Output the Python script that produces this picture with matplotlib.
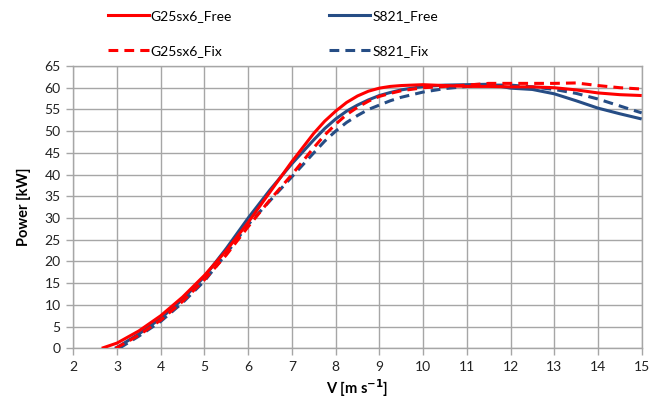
import matplotlib
matplotlib.use("Agg")
import matplotlib.pyplot as plt
from matplotlib.lines import Line2D

plt.rcParams['font.family'] = ['Lato', 'DejaVu Sans']

# Wind speed [m/s] and power [kW]
v_g_free = [2.65, 3.0, 3.5, 4.0, 4.5, 5.0, 5.5, 6.0, 6.5, 7.0, 7.5, 7.75, 8.0, 8.25, 8.5, 8.75,
            9.0, 9.25, 9.5, 10.0, 10.5, 11.0, 11.5, 12.0, 12.5, 13.0, 13.5, 14.0, 14.5, 15.0]
p_g_free = [0.0, 1.2, 4.0, 7.5, 11.8, 16.8, 22.5, 29.0, 36.0, 43.0, 49.5, 52.3, 54.6, 56.6, 58.1, 59.2,
            59.9, 60.3, 60.5, 60.7, 60.5, 60.3, 60.3, 60.2, 60.2, 60.0, 59.5, 58.8, 58.4, 58.2]

v_s_free = [2.95, 3.0, 3.5, 4.0, 4.5, 5.0, 5.5, 6.0, 6.5, 7.0, 7.5, 7.75, 8.0, 8.25, 8.5, 8.75,
            9.0, 9.25, 9.5, 10.0, 10.5, 11.0, 11.5, 12.0, 12.5, 13.0, 13.5, 14.0, 14.5, 15.0]
p_s_free = [0.0, 0.2, 3.3, 6.9, 11.3, 16.5, 23.0, 30.0, 36.5, 42.5, 48.0, 50.6, 52.8, 54.6, 56.0, 57.2,
            58.2, 58.9, 59.5, 60.3, 60.6, 60.7, 60.8, 59.9, 59.6, 58.6, 57.0, 55.3, 54.0, 52.8]

v_g_fix = [2.97, 3.5, 4.0, 4.5, 5.0, 5.5, 6.0, 6.5, 7.0, 7.5, 7.75, 8.0, 8.25, 8.5, 8.75,
           9.0, 9.25, 9.5, 10.0, 10.5, 11.0, 11.5, 12.0, 12.5, 13.0, 13.5, 14.0, 14.5, 15.0]
p_g_fix = [0.0, 3.0, 6.5, 10.8, 15.8, 21.5, 28.0, 34.2, 40.0, 46.2, 49.1, 51.6, 53.8, 55.5, 56.9,
           58.0, 58.7, 59.3, 60.0, 60.3, 60.6, 61.0, 61.0, 61.0, 61.0, 61.1, 60.5, 60.0, 59.7]

v_s_fix = [3.05, 3.5, 4.0, 4.5, 5.0, 5.5, 6.0, 6.5, 7.0, 7.5, 7.75, 8.0, 8.25, 8.5, 8.75,
           9.0, 9.25, 9.5, 10.0, 10.5, 11.0, 11.5, 12.0, 12.5, 13.0, 13.5, 14.0, 14.5, 15.0]
p_s_fix = [0.0, 2.8, 6.2, 10.5, 15.5, 21.8, 28.5, 34.0, 39.5, 45.0, 47.7, 50.0, 52.0, 53.6, 55.0,
           56.0, 57.0, 57.8, 59.0, 59.8, 60.3, 60.6, 60.6, 60.2, 59.6, 58.7, 57.4, 55.8, 54.2]

labels = ["G25sx6_Free", "G25sx6_Fix", "S821_Free", "S821_Fix"]
x_ticks = list(range(2, 16))
y_ticks = list(range(0, 66, 5))

RED = "#FF0000"
BLUE = "#264D85"
GRID = "#A6A6A6"

fig = plt.figure(figsize=(6.64, 4.11), dpi=100)
ax = fig.add_axes([0.1104, 0.1526, 0.8560, 0.6868])

lw = 2.2
dash = (0, (3.2, 2.0))
ax.plot(v_g_free, p_g_free, color=RED, lw=lw, solid_capstyle='butt', solid_joinstyle='round', zorder=4)
ax.plot(v_s_free, p_s_free, color=BLUE, lw=lw, solid_capstyle='butt', solid_joinstyle='round', zorder=3)
ax.plot(v_g_fix, p_g_fix, color=RED, lw=lw, linestyle=dash, zorder=4)
ax.plot(v_s_fix, p_s_fix, color=BLUE, lw=lw, linestyle=dash, zorder=3)

ax.set_xlim(2, 15)
ax.set_ylim(0, 65)
ax.set_xticks(x_ticks)
ax.set_yticks(y_ticks)
ax.grid(True, color=GRID, lw=1.0)
ax.set_axisbelow(True)
for s in ax.spines.values():
    s.set_color(GRID)
    s.set_linewidth(1.0)
ax.tick_params(axis='both', direction='out', length=5, color=GRID, width=1.0,
               labelsize=10, labelcolor='#222222', pad=4)

ax.set_xlabel(r"V [m s$^{\mathbf{-1}}$]", fontsize=10.5, fontweight='bold', labelpad=3)
ax.set_ylabel("Power [kW]", fontsize=10.5, fontweight='bold', labelpad=10)

handles = [
    Line2D([], [], color=RED, lw=lw),
    Line2D([], [], color=RED, lw=lw, linestyle=dash),
    Line2D([], [], color=BLUE, lw=lw),
    Line2D([], [], color=BLUE, lw=lw, linestyle=dash),
]
fig.legend(handles, labels, ncol=2, loc='upper left', bbox_to_anchor=(0.1475, 1.0),
           frameon=False, fontsize=10, handlelength=2.95, handletextpad=0.15,
           labelspacing=1.65, columnspacing=7.0, borderaxespad=0.3)

fig.savefig("out.png", dpi=100)
